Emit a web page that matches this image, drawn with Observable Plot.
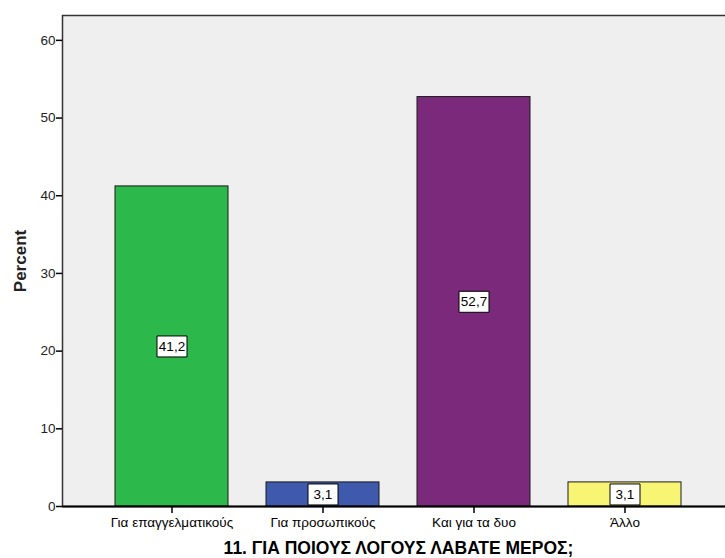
<!DOCTYPE html>
<html>
<head>
<meta charset="utf-8">
<script src="https://cdn.jsdelivr.net/npm/d3@7"></script>
<script src="https://cdn.jsdelivr.net/npm/@observablehq/plot@0.6"></script>
<style>
html, body { margin: 0; padding: 0; background: #fff; overflow: hidden; }
#chart { width: 725px; height: 558px; overflow: hidden; }
#chart svg { display: block; max-width: none !important; }
</style>
</head>
<body>
<div id="chart"></div>
<script>
const categories = ["Για επαγγελματικούς", "Για προσωπικούς", "Και για τα δυο", "Άλλο"];
const percents = [41.2, 3.1, 52.7, 3.1];
const labels = ["41,2", "3,1", "52,7", "3,1"];
const colors = ["#2db84b", "#3f5aac", "#7b2a7b", "#f8f574"];
const yTicks = [0, 10, 20, 30, 40, 50, 60];
const title = "11. ΓΙΑ ΠΟΙΟΥΣ ΛΟΓΟΥΣ ΛΑΒΑΤΕ ΜΕΡΟΣ;";

const data = categories.map((c, i) => ({cat: c, v: percents[i], label: labels[i], color: colors[i]}));

const boxSymbol = {
  draw(context, size) {
    const w = 30, h = 21;
    context.moveTo(-w / 2, -h / 2);
    context.lineTo(w / 2, -h / 2);
    context.lineTo(w / 2, h / 2);
    context.lineTo(-w / 2, h / 2);
    context.closePath();
  }
};

const chart = Plot.plot({
  width: 734,
  height: 558,
  marginLeft: 62,
  marginRight: 0,
  marginTop: 15,
  marginBottom: 52,
  style: {fontFamily: "Liberation Sans, Arial, sans-serif", fontSize: "13px", color: "#000", background: "#fff", maxWidth: "none"},
  x: {domain: categories, paddingInner: 0.25, paddingOuter: 0.35},
  y: {domain: [0, 63.2]},
  marks: [
    Plot.frame({fill: "#efefef", stroke: "#333", strokeWidth: 1.5}),
    Plot.barY(data, {x: "cat", y: "v", fill: d => d.color, stroke: "#1a1a1a", strokeWidth: 1}),
    Plot.dot(data, {x: "cat", y: d => d.v / 2, symbol: boxSymbol, r: 5, fill: "white", stroke: "#000", strokeWidth: 1}),
    Plot.text(data, {x: "cat", y: d => d.v / 2, text: "label", fontSize: 13.5, fill: "#000"}),
    Plot.ruleY([0], {stroke: "#000", strokeWidth: 2}),
    Plot.axisY({ticks: yTicks, tickSize: 6, tickPadding: 1, tickFormat: d => String(d), label: "Percent", labelArrow: "none", labelAnchor: "center", labelOffset: 49, fontSize: 13.5, fill: "#222"}),
    Plot.axisX({tickSize: 7, tickPadding: 4, fontSize: 13.5, label: title, labelArrow: "none", labelAnchor: "center", labelOffset: 47})
  ]
});

d3.select(chart).selectAll("[aria-label='y-axis label']").attr("font-weight", "bold").attr("font-size", 17);
d3.select(chart).selectAll("[aria-label='x-axis label']").attr("font-weight", "bold").attr("font-size", 17.5);
d3.select(chart).selectAll("[aria-label='y-axis tick'], [aria-label='x-axis tick']").attr("stroke", "#000").attr("stroke-width", 1.5);
d3.select(chart).selectAll("[aria-label='y-axis label'] text, [aria-label='x-axis label'] text").text(function() { return this.textContent.replace(/\s*[↑→←↓]\s*/g, ""); });

document.getElementById("chart").appendChild(chart);
</script>
</body>
</html>
